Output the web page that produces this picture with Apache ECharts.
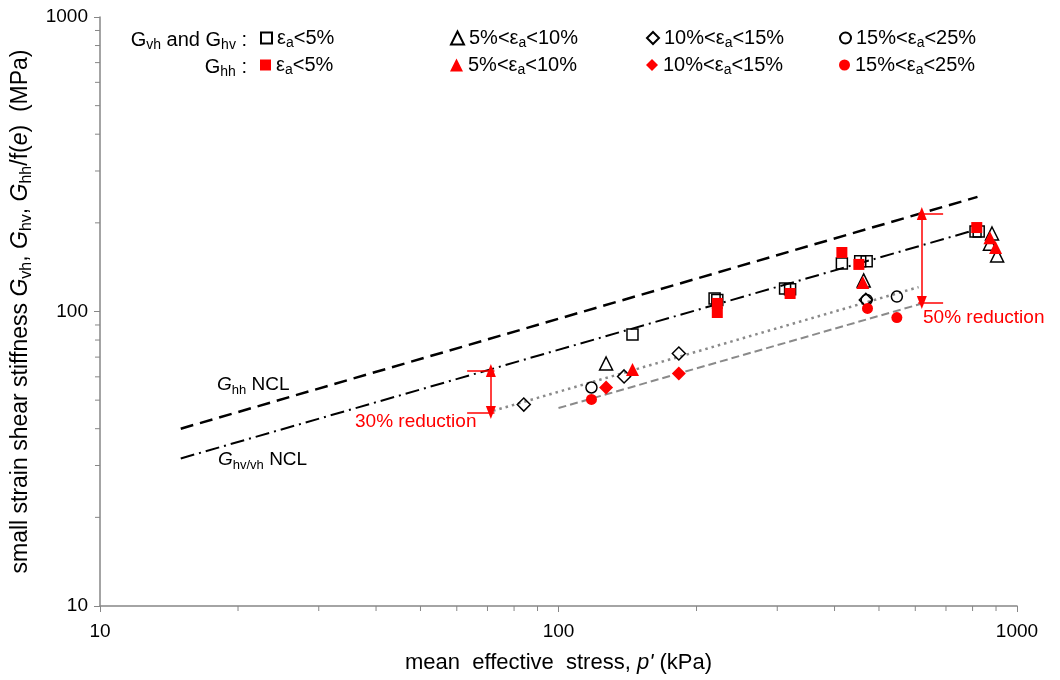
<!DOCTYPE html>
<html><head><meta charset="utf-8">
<script src="https://cdn.jsdelivr.net/npm/echarts@6/dist/echarts.min.js"></script>
<style>html,body{margin:0;padding:0;background:#fff}#c{width:1060px;height:680px}</style>
</head><body><div id="c"></div>
<script>
// ---------- data (p' kPa, G MPa) ----------
const xTicks = [10, 100, 1000];
const yTicks = [10, 100, 1000];
const minorTicks = [20,30,40,50,60,70,80,90,200,300,400,500,600,700,800,900];
const legendLabels = ['<5%', '5%<|<10%', '10%<|<15%', '15%<|<25%'];

const openSquare   = [[145,83.5],[219,110.7],[222,109.5],[312,119.8],[320,119],[415,145.6],[455,148],[470,148],[812,187],[825,187]];
const openTriangle = [[127,66.6],[463,127.5],[882,184],[873,170],[905,155]];
const openDiamond  = [[84,48.3],[139,60.2],[183,72],[468,109.5]];
const openCircle   = [[118,55.2],[470,109.5],[547,112.4]];
const redSquare    = [[222,106.5],[222,99.2],[320,115.1],[415,158.6],[452,144.5],[817,192.8]];
const redTriangle  = [[145,63.5],[461,125.5],[873,178],[898,165]];
const redDiamond   = [[127,55.2],[183,61.6]];
const redCircle    = [[118,50.3],[472,102.4],[547,95.4]];

const ghhNCL    = [[15,40],[820,245]];
const ghvNCL    = [[15,31.7],[790,187]];
const dottedFit = [[72,46],[610,121]];
const dashedFit = [[100,47],[615,106]];

const arrow30 = {p:71.2, top:63.1, bottom:45.4, tickFrom:63.2, tickTo:72.5};
const arrow50 = {p:620, top:215, bottom:107.3, tickFrom:609, tickTo:690};

// ---------- styling ----------
const FONT = 'Liberation Sans, Arial, sans-serif';
const AX = '#868686';
const RED = '#ff0000';
function rich(fs){
  return {
    n:{fontFamily:FONT, fontSize:fs, color:'#000', lineHeight:fs+5},
    i:{fontFamily:FONT, fontSize:fs, color:'#000', fontStyle:'italic', lineHeight:fs+5},
    s:{fontFamily:FONT, fontSize:Math.round(fs*0.68), color:'#000', verticalAlign:'bottom', lineHeight:Math.round(fs*0.72)}
  };
}
function epsLabel(i){
  const parts = legendLabels[i].split('|');
  if (parts.length === 1) return '{n|ε}{s|a}{n|' + parts[0] + '}';
  return '{n|' + parts[0] + 'ε}{s|a}{n|' + parts[1] + '}';
}
const blackNames = ['o0','o1','o2','o3'];
const redNames = ['r0','r1','r2','r3'];
const symbols = ['rect','triangle','diamond','circle'];
const sizes = [11,13,13,11];
const legendSizes = [11,13,12,11];
const openData = [openSquare, openTriangle, openDiamond, openCircle];
const redData = [redSquare, redTriangle, redDiamond, redCircle];
const legendCols = [260, 450, 646, 839];

const series = [];
series.push({type:'line', data:ghhNCL, showSymbol:false, silent:true, lineStyle:{color:'#000', width:2.5, type:[13,7]}, z:2});
series.push({type:'line', data:ghvNCL, showSymbol:false, silent:true, lineStyle:{color:'#000', width:2, type:[14,5,2,5]}, z:2});
series.push({type:'line', data:dottedFit, showSymbol:false, silent:true, lineStyle:{color:'#8a8a8a', width:2.5, type:[2.5,4]}, z:2});
series.push({type:'line', data:dashedFit, showSymbol:false, silent:true, lineStyle:{color:'#8a8a8a', width:2, type:[8,4]}, z:2});

for (let i=0;i<4;i++){
  series.push({name:blackNames[i], type:'scatter', data:openData[i], symbol:symbols[i], symbolSize:sizes[i],
    itemStyle:{color:'rgba(255,255,255,0)', borderColor:'#000', borderWidth:1.5, opacity:1}, z:3});
}
for (let i=0;i<4;i++){
  series.push({name:redNames[i], type:'scatter', data:redData[i], symbol:symbols[i], symbolSize:sizes[i] + (i===2 ? 1 : 0),
    itemStyle:{color:RED, borderWidth:0, opacity:1}, z:4});
}
// arrows
function arrowSeries(a){
  return {type:'line', data:[], silent:true,
    markLine:{silent:true, animation:false, label:{show:false}, lineStyle:{color:RED, width:1.5, type:'solid'},
      symbol:['triangle','triangle'], symbolSize:[10,13],
      data:[[{coord:[a.p,a.top]},{coord:[a.p,a.bottom]}]]}};
}
function tickSeries(a){
  return {type:'line', data:[], silent:true,
    markLine:{silent:true, animation:false, label:{show:false}, lineStyle:{color:RED, width:1.5, type:'solid'},
      symbol:['none','none'],
      data:[[{coord:[a.tickFrom,a.top]},{coord:[a.tickTo,a.top]}],[{coord:[a.tickFrom,a.bottom]},{coord:[a.tickTo,a.bottom]}]]}};
}
series.push(arrowSeries(arrow30), tickSeries(arrow30), arrowSeries(arrow50), tickSeries(arrow50));
// minor ticks
series.push({type:'custom', silent:true, clip:false, data:minorTicks.map(v=>[v,yTicks[0]]), z:1,
  renderItem:(params, api)=>{const p=api.coord([api.value(0), api.value(1)]);
    return {type:'line', shape:{x1:p[0],y1:p[1],x2:p[0],y2:p[1]+5}, style:{stroke:AX, lineWidth:1}};}});
series.push({type:'custom', silent:true, clip:false, data:minorTicks.map(v=>[xTicks[0],v]), z:1,
  renderItem:(params, api)=>{const p=api.coord([api.value(0), api.value(1)]);
    return {type:'line', shape:{x1:p[0]-5,y1:p[1],x2:p[0],y2:p[1]}, style:{stroke:AX, lineWidth:1}};}});

const legends = [];
[blackNames, redNames].forEach((names, row)=>{
  names.forEach((nm, i)=>{
    legends.push({data:[nm], left:legendCols[i], top: row===0 ? 28 : 55, padding:0,
      itemWidth:legendSizes[i], itemHeight:legendSizes[i], itemGap:0, selectedMode:false,
      textStyle:{fontFamily:FONT, fontSize:20, rich:rich(20)},
      formatter:()=>epsLabel(i)});
  });
});

const chart = echarts.init(document.getElementById('c'));
chart.setOption({
  animation:false,
  backgroundColor:'#fff',
  grid:{left:100, right:43, top:17, bottom:74, containLabel:false},
  xAxis:{type:'log', logBase:10, min:xTicks[0], max:xTicks[2],
    axisLine:{lineStyle:{color:AX, width:1.5}}, axisTick:{show:true, inside:false, length:6, lineStyle:{color:AX}},
    axisLabel:{fontFamily:FONT, fontSize:19, color:'#000', margin:16, formatter:(v)=>String(Math.round(v))},
    splitLine:{show:false},
    name:'{n|mean  effective  stress, }{i|p\'}{n| (kPa)}', nameLocation:'middle', nameGap:43,
    nameTextStyle:{rich:rich(22)}},
  yAxis:{type:'log', logBase:10, min:yTicks[0], max:yTicks[2],
    axisLine:{show:true, lineStyle:{color:AX, width:1.5}}, axisTick:{show:true, inside:false, length:6, lineStyle:{color:AX}},
    axisLabel:{fontFamily:FONT, fontSize:19, color:'#000', margin:12, formatter:(v)=>String(Math.round(v))},
    splitLine:{show:false},
    name:'{n|small strain shear stiffness }{i|G}{s|vh}{n|, }{i|G}{s|hv}{n|, }{i|G}{s|hh}{n|/f(}{i|e}{n|)  (MPa)}',
    nameLocation:'middle', nameGap:64, nameRotate:90, nameTextStyle:{rich:rich(23)}},
  legend:legends,
  graphic:[
    {type:'text', x:247, y:40, style:{text:'{n|G}{s|vh}{n| and G}{s|hv}{n| :}', rich:rich(20), align:'right', verticalAlign:'middle'}},
    {type:'text', x:247, y:67, style:{text:'{n|G}{s|hh}{n| :}', rich:rich(20), align:'right', verticalAlign:'middle'}},
    {type:'text', x:217, y:385, style:{text:'{i|G}{s|hh}{n| NCL}', rich:rich(19), align:'left', verticalAlign:'middle'}},
    {type:'text', x:218, y:460, style:{text:'{i|G}{s|hv/vh}{n| NCL}', rich:rich(19), align:'left', verticalAlign:'middle'}},
    {type:'text', x:355, y:422, style:{text:'30% reduction', fill:RED, font:'19px Liberation Sans', align:'left', verticalAlign:'middle'}},
    {type:'text', x:923, y:318, style:{text:'50% reduction', fill:RED, font:'19px Liberation Sans', align:'left', verticalAlign:'middle'}}
  ],
  series:series
});
</script></body></html>
